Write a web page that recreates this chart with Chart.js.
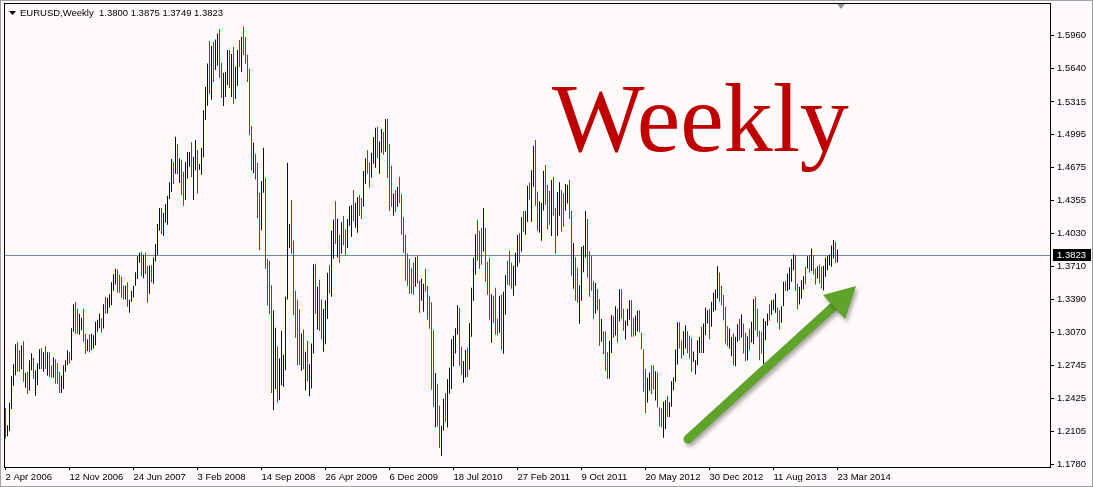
<!DOCTYPE html>
<html>
<head>
<meta charset="utf-8">
<title>EURUSD Weekly</title>
<script src="https://cdn.jsdelivr.net/npm/chart.js@4/dist/chart.umd.min.js"></script>
<style>
  html, body { margin: 0; padding: 0; background: #fffafa; }
  #wrap { width: 1093px; height: 487px; }
</style>
</head>
<body>
<div id="wrap"><canvas id="myChart" width="1093" height="487"></canvas></div>
<script>
// dati settimanali (massimo, minimo, rialzo 1 / ribasso 0)
const symbol = 'EURUSD,Weekly';
const lastOpen = 1.3800;
const lastClose = 1.3823;

const highs = [
  1.2333,1.2164,1.2385,1.2642,1.2759,1.2954,1.2973,1.2895,1.2944,1.2983,
  1.2674,1.2684,1.2798,1.2866,1.2821,1.2700,1.2769,1.2905,1.2915,1.2876,
  1.2934,1.2876,1.2876,1.2749,1.2827,1.2808,1.2769,1.2684,1.2645,1.2749,
  1.2798,1.2895,1.2876,1.3110,1.3344,1.3363,1.3298,1.3250,1.3211,1.3298,
  1.3055,1.3003,1.3045,1.3055,1.3042,1.3172,1.3191,1.3253,1.3207,1.3344,
  1.3415,1.3406,1.3441,1.3558,1.3636,1.3688,1.3682,1.3630,1.3610,1.3526,
  1.3523,1.3558,1.3389,1.3474,1.3523,1.3656,1.3812,1.3844,1.3851,1.3825,
  1.3844,1.3714,1.3721,1.3724,1.3799,1.3929,1.4124,1.4280,1.4280,1.4234,
  1.4319,1.4400,1.4533,1.4758,1.4728,1.4975,1.4904,1.4767,1.4748,1.4634,
  1.4728,1.4826,1.4826,1.4923,1.4780,1.4943,1.4845,1.4709,1.4865,1.5235,
  1.5460,1.5690,1.5908,1.5859,1.5898,1.5924,1.5983,1.6025,1.5697,1.5599,
  1.5609,1.5820,1.5820,1.5781,1.5850,1.5658,1.5820,1.5918,1.5950,1.6048,
  1.5947,1.5775,1.5638,1.5079,1.4917,1.4810,1.4722,1.4429,1.4543,1.4868,
  1.4576,1.3786,1.3766,1.3529,1.3285,1.3113,1.2928,1.2814,1.3084,1.2850,
  1.3415,1.4722,1.4124,1.4358,1.3961,1.3474,1.3386,1.3295,1.3058,1.3097,
  1.2879,1.2986,1.2759,1.2960,1.3734,1.3737,1.3513,1.3581,1.3389,1.3298,
  1.3383,1.3649,1.3724,1.4059,1.4169,1.4348,1.4176,1.4017,1.4143,1.4202,
  1.4075,1.4173,1.4299,1.4309,1.4455,1.4332,1.4387,1.4407,1.4377,1.4641,
  1.4767,1.4845,1.4725,1.4819,1.4972,1.5063,1.5070,1.4930,1.5050,1.5021,
  1.5148,1.5148,1.4904,1.4693,1.4423,1.4455,1.4488,1.4585,1.4416,1.4192,
  1.4017,1.3838,1.3786,1.3698,1.3747,1.3802,1.3818,1.3571,1.3591,1.3542,
  1.3688,1.3523,1.3422,1.3363,1.3090,1.2674,1.2567,1.2353,1.2158,1.2421,
  1.2476,1.2613,1.2723,1.3003,1.3035,1.3110,1.3334,1.3308,1.2928,1.2791,
  1.2899,1.2918,1.3159,1.3503,1.3796,1.4026,1.4166,1.4059,1.4088,1.4280,
  1.4088,1.3757,1.3796,1.3441,1.3425,1.3503,1.3201,1.3425,1.3435,1.3464,
  1.3627,1.3766,1.3864,1.3747,1.3718,1.3844,1.4017,1.4036,1.4192,1.4251,
  1.4251,1.4498,1.4527,1.4650,1.4888,1.4943,1.4442,1.4348,1.4329,1.4644,
  1.4699,1.4504,1.4446,1.4553,1.4582,1.4283,1.4436,1.4533,1.4455,1.4426,
  1.4514,1.4507,1.4553,1.4251,1.3939,1.3802,1.3698,1.3529,1.3900,1.3916,
  1.4251,1.4173,1.3861,1.3815,1.3568,1.3549,1.3490,1.3393,1.3198,1.3081,
  1.3081,1.2876,1.2986,1.3237,1.3227,1.3324,1.3298,1.3490,1.3490,1.3298,
  1.3185,1.3298,1.3383,1.3383,1.3211,1.3233,1.3282,1.3285,1.3064,1.2905,
  1.2713,1.2626,1.2678,1.2746,1.2749,1.2691,1.2681,1.2336,1.2327,1.2392,
  1.2408,1.2450,1.2388,1.2593,1.2629,1.2902,1.3168,1.3168,1.2993,1.3081,
  1.3139,1.3081,1.3038,1.3016,1.2882,1.2798,1.2993,1.3025,1.3123,1.3155,
  1.3311,1.3285,1.3298,1.3367,1.3454,1.3487,1.3714,1.3653,1.3523,1.3432,
  1.3318,1.3129,1.3107,1.3025,1.3058,1.3025,1.3149,1.3198,1.3246,1.3155,
  1.3064,1.3032,1.3103,1.3172,1.3393,1.3415,1.3298,1.3084,1.3074,1.3204,
  1.3178,1.3253,1.3344,1.3383,1.3389,1.3448,1.3311,1.3285,1.3324,1.3562,
  1.3568,1.3643,1.3701,1.3783,1.3828,1.3822,1.3545,1.3513,1.3578,1.3617,
  1.3708,1.3812,1.3822,1.3887,1.3822,1.3692,1.3714,1.3731,1.3708,1.3718,
  1.3796,1.3815,1.3828,1.3916,1.3968,1.3952,1.3875
];

const lows = [
  1.2034,1.2057,1.2106,1.2323,1.2548,1.2652,1.2684,1.2684,1.2710,1.2587,
  1.2528,1.2470,1.2499,1.2700,1.2616,1.2450,1.2557,1.2713,1.2713,1.2684,
  1.2713,1.2645,1.2635,1.2626,1.2626,1.2567,1.2567,1.2479,1.2479,1.2518,
  1.2684,1.2749,1.2765,1.2798,1.3074,1.3055,1.3055,1.3045,1.3090,1.2977,
  1.2863,1.2886,1.2873,1.2895,1.2912,1.2944,1.3074,1.3110,1.3068,1.3107,
  1.3253,1.3253,1.3311,1.3334,1.3474,1.3536,1.3454,1.3454,1.3409,1.3389,
  1.3389,1.3318,1.3259,1.3367,1.3409,1.3523,1.3588,1.3747,1.3617,1.3597,
  1.3636,1.3357,1.3445,1.3558,1.3542,1.3760,1.3822,1.4059,1.4026,1.4007,
  1.4137,1.4117,1.4368,1.4436,1.4514,1.4615,1.4611,1.4524,1.4407,1.4303,
  1.4358,1.4569,1.4683,1.4582,1.4358,1.4650,1.4426,1.4654,1.4605,1.4774,
  1.5138,1.5278,1.5391,1.5336,1.5508,1.5625,1.5668,1.5551,1.5356,1.5274,
  1.5362,1.5479,1.5450,1.5362,1.5294,1.5343,1.5473,1.5655,1.5606,1.5772,
  1.5690,1.5508,1.4992,1.4650,1.4621,1.4559,1.4182,1.3870,1.4065,1.4429,
  1.3688,1.3334,1.3246,1.2479,1.2310,1.2518,1.2382,1.2408,1.2554,1.2538,
  1.2700,1.3389,1.3890,1.3835,1.3237,1.3016,1.2749,1.2752,1.2694,1.2710,
  1.2505,1.2593,1.2447,1.2522,1.2863,1.3250,1.3097,1.3084,1.3003,1.2879,
  1.2954,1.3198,1.3448,1.3415,1.3786,1.3929,1.3799,1.3747,1.3838,1.3919,
  1.3822,1.3890,1.4108,1.4000,1.4153,1.4088,1.4039,1.4202,1.4173,1.4293,
  1.4517,1.4615,1.4478,1.4576,1.4712,1.4673,1.4767,1.4615,1.4819,1.4800,
  1.4829,1.4576,1.4251,1.4293,1.4205,1.4241,1.4293,1.4329,1.4020,1.3844,
  1.3571,1.3523,1.3445,1.3445,1.3435,1.3513,1.3545,1.3259,1.3376,1.3269,
  1.3464,1.3191,1.3103,1.2509,1.2343,1.2141,1.2151,1.1943,1.1865,1.2112,
  1.2197,1.2141,1.2470,1.2518,1.2736,1.2863,1.3045,1.2743,1.2655,1.2577,
  1.2626,1.2635,1.2704,1.3025,1.3376,1.3633,1.3766,1.3688,1.3727,1.3854,
  1.3562,1.3435,1.3191,1.2967,1.3159,1.3048,1.3042,1.3064,1.2899,1.2860,
  1.3240,1.3532,1.3523,1.3493,1.3425,1.3523,1.3708,1.3747,1.3854,1.4046,
  1.4020,1.4147,1.4364,1.4147,1.4488,1.4303,1.4059,1.4039,1.3961,1.4257,
  1.4312,1.4072,1.4117,1.4007,1.4205,1.3835,1.4007,1.4205,1.4049,1.4098,
  1.4254,1.4325,1.4176,1.3620,1.3493,1.3376,1.3357,1.3152,1.3376,1.3656,
  1.3796,1.3604,1.3415,1.3474,1.3201,1.3250,1.3282,1.2938,1.2977,1.2856,
  1.2694,1.2616,1.2616,1.2869,1.3019,1.3038,1.2970,1.3175,1.3201,1.3084,
  1.2999,1.3133,1.3191,1.3025,1.3025,1.3038,1.3077,1.3071,1.2908,1.2489,
  1.2284,1.2385,1.2499,1.2466,1.2512,1.2405,1.2336,1.2154,1.2141,1.2041,
  1.2128,1.2245,1.2245,1.2343,1.2505,1.2587,1.2756,1.2912,1.2814,1.2847,
  1.2912,1.2869,1.2814,1.2684,1.2782,1.2658,1.2749,1.2869,1.2869,1.2869,
  1.3042,1.3155,1.3003,1.3123,1.3269,1.3285,1.3399,1.3367,1.3334,1.3188,
  1.2960,1.2934,1.2912,1.2837,1.2749,1.2739,1.2977,1.2993,1.3019,1.2863,
  1.2791,1.2798,1.2895,1.2970,1.2954,1.3090,1.3025,1.2798,1.2863,1.2759,
  1.2993,1.3133,1.3181,1.3237,1.3285,1.3259,1.3165,1.3100,1.3162,1.3324,
  1.3474,1.3471,1.3487,1.3562,1.3675,1.3474,1.3295,1.3341,1.3396,1.3487,
  1.3536,1.3692,1.3653,1.3666,1.3633,1.3536,1.3594,1.3545,1.3497,1.3477,
  1.3610,1.3675,1.3724,1.3708,1.3789,1.3747,1.3749
];

const up = [
  0,1,1,1,1,1,0,0,1,0, 1,0,1,1,0,1,1,1,0,1, 0,1,0,0,1,0,0,0,1,1, 1,1,0,1,1,0,0,1,1,0,
  0,1,0,1,1,1,1,1,0,1, 0,1,1,1,1,1,0,0,0,0, 1,0,1,1,1,1,1,1,0,1, 0,0,1,0,1,1,1,1,0,1,
  1,1,1,1,0,1,0,1,0,0, 1,1,1,0,1,1,0,1,1,1, 1,1,0,1,0,1,1,0,0,1, 1,1,0,1,0,1,1,0,1,0,
  0,0,0,0,1,0,0,0,1,1, 0,0,0,0,1,1,0,1,1,1, 1,1,1,0,0,0,0,0,1,0, 1,0,1,1,1,0,1,0,0,1,
  1,1,0,1,1,0,1,0,1,0, 0,1,1,1,0,1,1,0,0,1, 1,0,0,1,1,1,0,1,1,0, 1,0,0,0,1,0,1,0,0,0,
  0,0,0,0,0,1,0,0,1,1, 0,0,0,0,0,1,0,0,1,1, 0,1,1,1,1,1,1,0,0,1, 1,0,1,1,1,1,0,0,0,1,
  0,0,0,1,0,0,0,1,0,1, 1,0,0,0,1,1,1,0,1,0, 1,1,0,1,1,0,0,1,1,1, 0,0,0,1,0,0,1,1,0,0,
  1,1,0,0,1,0,0,1,1,1, 1,0,0,0,0,1,0,0,1,0, 0,0,1,1,0,1,0,1,0,0, 1,1,1,0,0,1,1,0,0,0,
  0,1,1,0,0,1,0,0,0,1, 1,0,1,1,1,1,1,0,0,1, 1,0,0,0,1,1,1,1,0,1, 1,1,0,1,1,1,1,0,0,0,
  0,0,1,1,0,1,1,0,1,0, 0,1,0,1,1,0,0,0,0,1, 1,1,0,1,1,1,0,0,1,1, 0,1,1,1,1,0,0,1,1,1,
  0,1,0,1,0,0,1,0,0,1, 1,1,1,1,1,0,1
];

// etichette delle date (una ogni 32 settimane) e dei prezzi
const dateLabels = ['2 Apr 2006', '12 Nov 2006', '24 Jun 2007', '3 Feb 2008', '14 Sep 2008',
  '26 Apr 2009', '6 Dec 2009', '18 Jul 2010', '27 Feb 2011', '9 Oct 2011', '20 May 2012',
  '30 Dec 2012', '11 Aug 2013', '23 Mar 2014'];
const dateStep = 32;
const yTicks = [1.1780, 1.2105, 1.2425, 1.2745, 1.3070, 1.3390, 1.3710, 1.4030,
  1.4355, 1.4675, 1.4995, 1.5315, 1.5640, 1.5960];

const axisFont = { family: "'Liberation Sans', Arial, sans-serif", size: 9.5 };
const last = highs.length - 1;

const bars = highs.map((h, i) => ({ x: i, y: [lows[i], h] }));
const barColors = up.map(u => u ? '#000080' : '#ff0000');

// sfondo, cornice, linea del prezzo, testi e freccia
const decor = {
  id: 'decor',
  beforeDraw(chart) {
    const ctx = chart.ctx;
    ctx.save();
    ctx.fillStyle = '#fffafa';
    ctx.fillRect(0, 0, chart.width, chart.height);
    ctx.strokeStyle = '#a0a0a0';
    ctx.lineWidth = 1;
    ctx.strokeRect(0.5, 0.5, chart.width - 1, chart.height - 1);
    ctx.restore();
  },
  beforeDatasetsDraw(chart) {
    const { ctx, chartArea, scales } = chart;
    const y = Math.round(scales.y.getPixelForValue(lastClose)) + 0.5;
    ctx.save();
    ctx.strokeStyle = '#778899';
    ctx.lineWidth = 1;
    ctx.beginPath();
    ctx.moveTo(chartArea.left, y);
    ctx.lineTo(chartArea.right, y);
    ctx.stroke();
    ctx.restore();
  },
  afterDraw(chart) {
    const { ctx, chartArea, scales } = chart;
    ctx.save();

    // cornice del grafico
    ctx.strokeStyle = '#000';
    ctx.lineWidth = 1;
    ctx.strokeRect(chartArea.left + 0.5, chartArea.top + 0.5,
      chartArea.right - chartArea.left, chartArea.bottom - chartArea.top);

    // etichetta del prezzo corrente
    const py = Math.round(scales.y.getPixelForValue(lastClose));
    ctx.fillStyle = '#000';
    ctx.fillRect(chartArea.right + 3, py - 6, 38, 12);
    ctx.fillStyle = '#fff';
    ctx.font = "9.5px 'Liberation Sans', Arial, sans-serif";
    ctx.textBaseline = 'middle';
    ctx.textAlign = 'left';
    ctx.fillText(lastClose.toFixed(4), chartArea.right + 7, py + 0.5);

    // titolo in alto a sinistra
    ctx.fillStyle = '#000';
    ctx.beginPath();
    ctx.moveTo(9, 11); ctx.lineTo(16, 11); ctx.lineTo(12.5, 15);
    ctx.closePath();
    ctx.fill();
    ctx.font = "9.5px 'Liberation Sans', Arial, sans-serif";
    ctx.fillText(symbol, 20, 13);
    const ohlc = [lastOpen, highs[last], lows[last], lastClose].map(v => v.toFixed(4)).join(' ');
    ctx.fillText(ohlc, 99, 13);

    // segnaposto dello shift
    ctx.fillStyle = '#8a96a2';
    ctx.beginPath();
    ctx.moveTo(837, 4); ctx.lineTo(845, 4); ctx.lineTo(841, 9);
    ctx.closePath();
    ctx.fill();

    // scritta grande
    ctx.fillStyle = '#c00000';
    ctx.font = "98px 'Liberation Serif', 'Times New Roman', serif";
    ctx.textBaseline = 'alphabetic';
    ctx.fillText('Weekly', 552, 151);

    // freccia verde
    ctx.shadowColor = 'rgba(0,0,0,0.35)';
    ctx.shadowBlur = 4;
    ctx.shadowOffsetX = 2;
    ctx.shadowOffsetY = 3;
    ctx.strokeStyle = '#5fa32b';
    ctx.fillStyle = '#5fa32b';
    ctx.lineWidth = 9;
    ctx.lineCap = 'round';
    ctx.beginPath();
    ctx.moveTo(688, 439);
    ctx.lineTo(834, 306);
    ctx.stroke();
    ctx.beginPath();
    ctx.moveTo(856, 286);
    ctx.lineTo(823, 295);
    ctx.lineTo(845, 319);
    ctx.closePath();
    ctx.fill();

    ctx.restore();
  }
};

new Chart(
  document.getElementById('myChart'),
  {
    type: 'bar',
    data: {
      datasets: [
        {
          label: symbol,
          data: bars,
          backgroundColor: barColors,
          borderWidth: 0,
          borderSkipped: false,
          inflateAmount: 0,
          barThickness: 1
        }
      ]
    },
    options: {
      responsive: false,
      animation: false,
      devicePixelRatio: 1,
      events: [],
      layout: { padding: { left: 4, top: 3, right: 0, bottom: 0 } },
      plugins: {
        legend: { display: false },
        tooltip: { enabled: false }
      },
      scales: {
        x: {
          type: 'linear',
          min: -0.75,
          max: 522.25,
          offset: false,
          border: { display: false },
          grid: { drawOnChartArea: false, drawTicks: true, tickLength: 3, tickColor: '#000', offset: false },
          afterBuildTicks: s => { s.ticks = dateLabels.map((_, k) => ({ value: k * dateStep })); },
          afterFit: s => { s.height = 20; s.paddingLeft = 0; s.paddingRight = 0; },
          ticks: {
            align: 'start',
            padding: 2,
            color: '#000',
            font: axisFont,
            maxRotation: 0,
            autoSkip: false,
            callback: v => dateLabels[Math.round(v / dateStep)]
          }
        },
        y: {
          position: 'right',
          min: 1.17567,
          max: 1.62791,
          border: { display: false },
          grid: { drawOnChartArea: false, drawTicks: true, tickLength: 4, tickColor: '#000' },
          afterBuildTicks: s => { s.ticks = yTicks.map(v => ({ value: v })); },
          afterFit: s => { s.width = 43; s.paddingTop = 0; s.paddingBottom = 0; },
          ticks: {
            padding: 3,
            color: '#000',
            font: axisFont,
            callback: v => v.toFixed(4)
          }
        }
      }
    },
    plugins: [decor]
  }
);
</script>
</body>
</html>
